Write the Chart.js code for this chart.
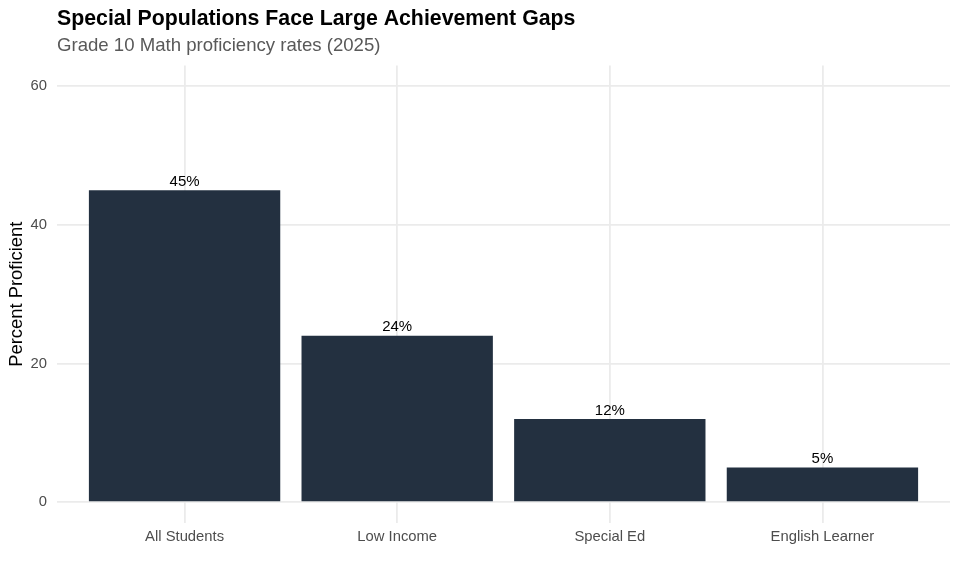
<!DOCTYPE html>
<html>
<head>
<meta charset="utf-8">
<script src="https://cdn.jsdelivr.net/npm/chart.js@4.4.1/dist/chart.umd.min.js"></script>
<style>
  html, body { margin: 0; padding: 0; background: #ffffff; }
  #wrap { width: 960px; height: 576px; }
</style>
</head>
<body>
<div id="wrap"><canvas id="c" width="960" height="576"></canvas></div>
<script>
const categories = ["All Students", "Low Income", "Special Ed", "English Learner"];
const proficiency = [45, 24, 12, 5];
const yTicks = [0, 20, 40, 60];
const titleText = "Special Populations Face Large Achievement Gaps";
const subtitleText = "Grade 10 Math proficiency rates (2025)";
const yAxisTitle = "Percent Proficient";

const FONT = "'Liberation Sans', Arial, Helvetica, sans-serif";
const barColor = "#233040";
const gridColor = "#ebebeb";

const barLabels = {
  id: "barLabels",
  afterDatasetsDraw(chart) {
    const ctx = chart.ctx;
    const meta = chart.getDatasetMeta(0);
    ctx.save();
    ctx.font = "15px " + FONT;
    ctx.fillStyle = "#000000";
    ctx.textAlign = "center";
    ctx.textBaseline = "alphabetic";
    meta.data.forEach((el, i) => {
      ctx.fillText(proficiency[i] + "%", el.x, el.y - 4.5);
    });
    ctx.restore();
  }
};

new Chart(document.getElementById("c"), {
  type: "bar",
  data: {
    datasets: [{
      data: categories.map((c, i) => ({ x: i + 1, y: proficiency[i] })),
      backgroundColor: barColor,
      borderWidth: 0,
      categoryPercentage: 1.0,
      barPercentage: 0.9
    }]
  },
  options: {
    responsive: false,
    animation: false,
    devicePixelRatio: 1,
    layout: { padding: { top: 0, left: 0, right: 10, bottom: 0 } },
    plugins: {
      legend: { display: false },
      tooltip: { enabled: false },
      title: {
        display: true,
        text: titleText,
        align: "start",
        fullSize: false,
        color: "#000000",
        font: { family: FONT, size: 21.3, weight: "bold", lineHeight: 1.2 },
        padding: { top: 6.5, bottom: 0 }
      },
      subtitle: {
        display: true,
        text: subtitleText,
        align: "start",
        fullSize: false,
        color: "#595959",
        font: { family: FONT, size: 18.6, weight: "normal", lineHeight: 1.2 },
        padding: { top: 2.8, bottom: 8.3 }
      }
    },
    scales: {
      x: {
        type: "linear",
        min: 0.4,
        max: 4.6,
        offset: false,
        afterBuildTicks(scale) {
          scale.ticks = categories.map((c, i) => ({ value: i + 1 }));
        },
        afterFit(scale) { scale.height = 53; },
        ticks: {
          autoSkip: false,
          maxRotation: 0,
          padding: 5,
          color: "#4d4d4d",
          font: { family: FONT, size: 14.8 },
          callback: (v) => categories[Math.round(v) - 1] || ""
        },
        grid: { color: gridColor, lineWidth: 1.8, drawTicks: false, offset: false },
        border: { display: false }
      },
      y: {
        type: "linear",
        min: -3,
        max: 63,
        afterBuildTicks(scale) {
          scale.ticks = yTicks.map(v => ({ value: v }));
        },
        afterFit(scale) { scale.width = 57; },
        ticks: {
          padding: 10,
          color: "#4d4d4d",
          font: { family: FONT, size: 14.8 }
        },
        grid: { color: gridColor, lineWidth: 1.8, drawTicks: false },
        border: { display: false },
        title: {
          display: true,
          text: yAxisTitle,
          color: "#000000",
          font: { family: FONT, size: 18.4, lineHeight: 1.2 },
          padding: { top: 5.5, bottom: 0 }
        }
      }
    }
  },
  plugins: [barLabels]
});
</script>
</body>
</html>
